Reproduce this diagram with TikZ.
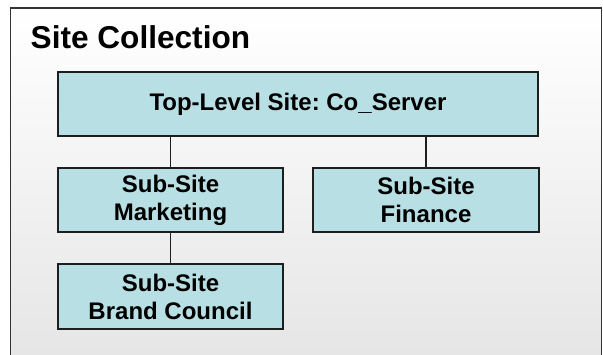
\documentclass[tikz,border=0pt]{standalone}
\usepackage{fontspec}
\setmainfont{Liberation Sans}
\definecolor{boxfill}{HTML}{B8DFE3}
\definecolor{boxline}{HTML}{1E1E1E}
\definecolor{frameline}{HTML}{333333}
\frenchspacing
\begin{document}
\begin{tikzpicture}[x=1pt,y=1pt,
  sitebox/.style={draw=boxline, line width=1.4pt, fill=boxfill, inner sep=0pt,
    align=center, font=\fontsize{24}{28}\selectfont\bfseries},
  link/.style={draw=boxline, line width=1.3pt}]
\useasboundingbox (0,0) rectangle (603,354);
\clip (0,0) rectangle (603,354);
\shade[top color=white, bottom color=black!10] (10.5,-5) rectangle (601.5,346);
\draw[frameline, line width=1.6pt] (10.5,-5) rectangle (601.5,346);
\node[anchor=base west, inner sep=0pt, font=\fontsize{31.6}{36}\selectfont\bfseries] (title) at (30.5,305) {Site Collection};
\node[sitebox, minimum width=480pt, minimum height=64pt] (top) at (298,250) {Top-Level Site: Co\_Server};
\node[sitebox, minimum width=225pt, minimum height=64pt] (mkt) at (170.5,154) {Sub-Site\\Marketing};
\node[sitebox, minimum width=225pt, minimum height=65pt] (brand) at (170.5,57.5) {Sub-Site\\Brand Council};
\node[sitebox, minimum width=226pt, minimum height=64pt] (fin) at (426,154) {Sub-Site\\Finance};
\draw[link] (mkt.north) -- (mkt.north |- top.south);
\draw[link] (fin.north) -- (fin.north |- top.south);
\draw[link] (brand.north) -- (mkt.south);
\end{tikzpicture}
\end{document}
